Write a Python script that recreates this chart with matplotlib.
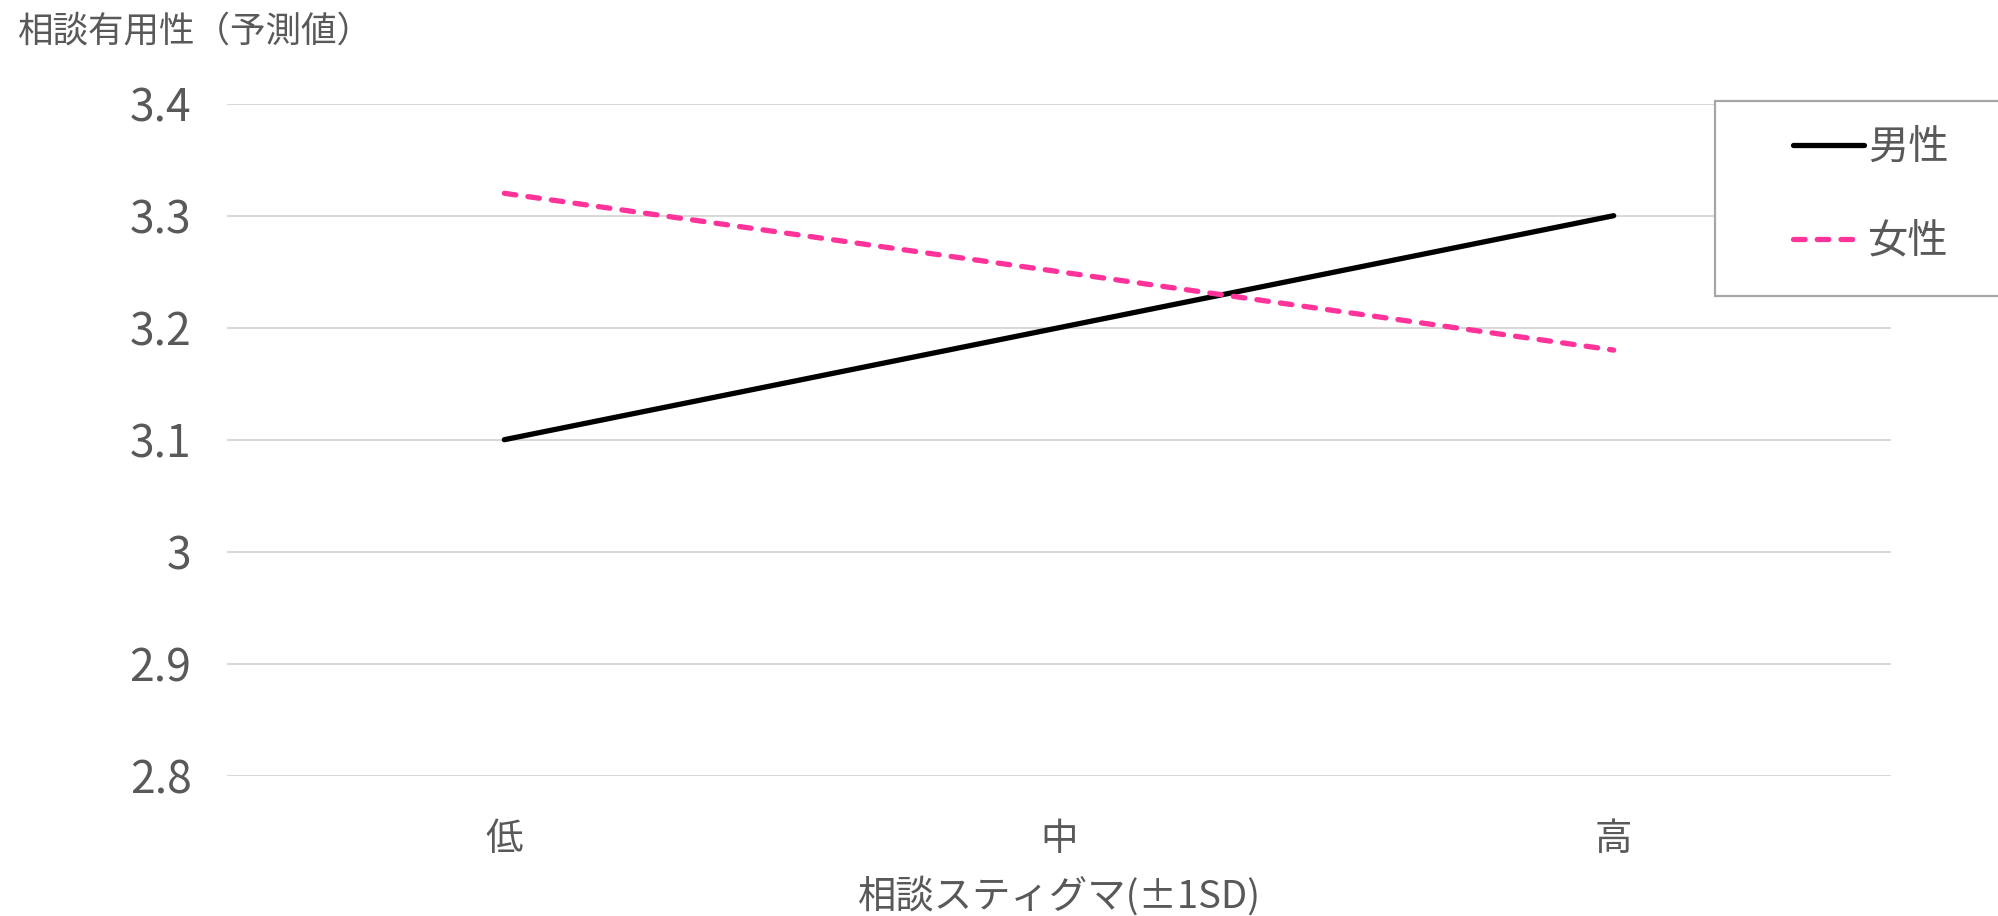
import matplotlib
matplotlib.use("Agg")
import matplotlib.pyplot as plt
from matplotlib.patches import Rectangle

plt.rcParams['font.family'] = ['Noto Sans CJK JP', 'DejaVu Sans']

categories = ['低', '中', '高']
male = [3.1, 3.2, 3.3]
female = [3.32, 3.25, 3.18]
series_names = ['男性', '女性']
yticks = [2.8, 2.9, 3.0, 3.1, 3.2, 3.3, 3.4]
ytick_labels = ['2.8', '2.9', '3', '3.1', '3.2', '3.3', '3.4']

W, H = 1999, 916
DPI = 200
fig = plt.figure(figsize=(W / DPI, H / DPI), dpi=DPI)
ax = fig.add_axes([227 / W, 1 - 775.7 / H, (1891 - 227) / W, (775.7 - 103.7) / H])

text_color = '#595959'
x = list(range(len(categories)))

lw = 1.9
ax.plot(x, male, color='black', lw=lw, solid_capstyle='round', label=series_names[0], zorder=3)
ax.plot(x, female, color='#FF3399', lw=lw, dashes=(2.2, 2.3), dash_capstyle='round',
        label=series_names[1], zorder=3)

ax.set_xlim(-0.5, 2.5)
ax.set_ylim(2.8, 3.4)
ax.set_yticks(yticks)
ax.set_yticklabels(ytick_labels)
ax.set_xticks(x)
ax.set_xticklabels(categories)
ax.grid(axis='y', color='#d9d9d9', lw=0.75)
ax.set_axisbelow(True)
for s in ax.spines.values():
    s.set_visible(False)
ax.tick_params(axis='both', length=0, colors=text_color)
ax.tick_params(axis='y', labelsize=16, pad=12.8)
ax.tick_params(axis='x', labelsize=13.5, pad=16)

fig.text(18 / W, 1 - 32 / H, '相談有用性（予測値）', fontsize=12.8, color=text_color,
         ha='left', va='center')
fig.text(1059 / W, 1 - 897 / H, '相談スティグマ(±1SD)', fontsize=13.8, color=text_color,
         ha='center', va='center')

# legend frame
fig.patches.append(Rectangle((1715 / W, 1 - 296 / H), 400 / W, 195 / H,
                             transform=fig.transFigure, facecolor='white',
                             edgecolor='#a6a6a6', lw=0.8, zorder=5))
leg = fig.legend(loc='upper left', bbox_to_anchor=(1793 / W, 1 - 127 / H),
                 frameon=False, fontsize=14.5, handlelength=1.76, handletextpad=0.1,
                 labelspacing=1.31, borderpad=0, borderaxespad=0)
for t in leg.get_texts():
    t.set_color(text_color)
leg.set_zorder(6)

fig.savefig('out.png', dpi=DPI, facecolor='white')
